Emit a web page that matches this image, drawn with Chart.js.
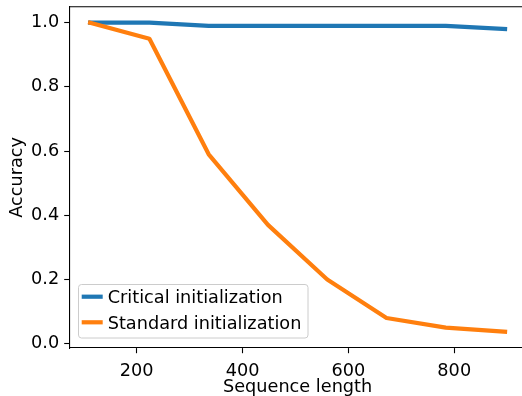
<!DOCTYPE html>
<html>
<head>
<meta charset="utf-8">
<script src="https://cdn.jsdelivr.net/npm/chart.js@4/dist/chart.umd.min.js"></script>
<style>
  html, body { margin: 0; padding: 0; background: #fff; overflow: hidden; }
  #wrap { width: 527px; height: 396px; }
</style>
</head>
<body>
<div id="wrap"><canvas id="c" width="527" height="396"></canvas></div>
<script>
const seqLength = [112, 224, 336, 448, 560, 672, 784, 896];
const critical = [1.0, 1.0, 0.99, 0.99, 0.99, 0.99, 0.99, 0.98];
const standard = [1.0, 0.95, 0.59, 0.37, 0.2, 0.08, 0.05, 0.037];
const xTicks = [200, 400, 600, 800];
const yTicks = [0.0, 0.2, 0.4, 0.6, 0.8, 1.0];
const seriesNames = ['Critical initialization', 'Standard initialization'];
const seriesColors = ['#1f77b4', '#ff7f0e'];

const FONT = 'DejaVu Sans';
const FS = 17.7;

const framePlugin = {
  id: 'frame',
  afterDraw(chart) {
    const ctx = chart.ctx, a = chart.chartArea;
    ctx.save();
    ctx.strokeStyle = '#000';
    ctx.lineWidth = 1.1;
    ctx.beginPath();
    ctx.moveTo(a.left, a.top);
    ctx.lineTo(a.right, a.top);
    ctx.lineTo(a.right, a.bottom);
    ctx.stroke();
    // legend
    const bx = 78.5, by = 284.5, bw = 229.5, bh = 53.5;
    ctx.beginPath();
    ctx.roundRect(bx, by, bw, bh, 3);
    ctx.fillStyle = 'rgba(255,255,255,0.8)';
    ctx.fill();
    ctx.strokeStyle = '#cccccc';
    ctx.lineWidth = 1;
    ctx.stroke();
    const rows = [296.7, 322.3];
    const bases = [303.3, 329.3];
    chart.data.datasets.forEach((ds) => {
      const li = ds.legendIndex;
      ctx.beginPath();
      ctx.strokeStyle = ds.borderColor;
      ctx.lineWidth = 4.2;
      ctx.lineCap = 'square';
      ctx.moveTo(83.8, rows[li]);
      ctx.lineTo(100.6, rows[li]);
      ctx.stroke();
      ctx.fillStyle = '#000';
      ctx.font = FS + 'px "' + FONT + '"';
      ctx.textBaseline = 'alphabetic';
      ctx.textAlign = 'left';
      ctx.fillText(ds.label, 107.7, bases[li]);
    });
    ctx.restore();
  }
};

const makeData = (ys) => seqLength.map((x, i) => ({ x: x, y: ys[i] }));
const zeroPad = (s) => { s.paddingTop = 0; s.paddingBottom = 0; s.paddingLeft = 0; s.paddingRight = 0; };

new Chart(document.getElementById('c'), {
  type: 'line',
  data: {
    datasets: [
      { label: seriesNames[0], data: makeData(critical), borderColor: seriesColors[0], backgroundColor: seriesColors[0],
        borderWidth: 4.2, pointRadius: 0, tension: 0, borderCapStyle: 'square', borderJoinStyle: 'round', order: 1, legendIndex: 0 },
      { label: seriesNames[1], data: makeData(standard), borderColor: seriesColors[1], backgroundColor: seriesColors[1],
        borderWidth: 4.2, pointRadius: 0, tension: 0, borderCapStyle: 'square', borderJoinStyle: 'round', order: 0, legendIndex: 1 }
    ]
  },
  options: {
    responsive: false,
    animation: false,
    devicePixelRatio: 1,
    layout: { padding: { top: 6.7, left: 0, right: 1.2, bottom: 0 } },
    plugins: { legend: { display: false }, tooltip: { enabled: false } },
    scales: {
      x: {
        type: 'linear',
        min: 72.8, max: 935.2,
        afterBuildTicks: (s) => { s.ticks = xTicks.map(v => ({ value: v })); },
        afterFit: (s) => { s.height = 48; zeroPad(s); },
        grid: { drawOnChartArea: false, drawTicks: true, tickLength: 5.2, tickWidth: 1.1, tickColor: '#000' },
        border: { display: true, color: '#000', width: 1.1 },
        ticks: { color: '#000', font: { family: FONT, size: FS }, padding: 8, maxRotation: 0,
                 callback: (v) => String(v) },
        title: { display: true, text: 'Sequence length', color: '#000', font: { family: FONT, size: FS }, padding: { top: 0, bottom: -2.5 } }
      },
      y: {
        type: 'linear',
        min: -0.0135, max: 1.0498,
        afterBuildTicks: (s) => { s.ticks = yTicks.map(v => ({ value: v })); },
        afterFit: (s) => { s.width = 69.4; zeroPad(s); },
        grid: { drawOnChartArea: false, drawTicks: true, tickLength: 5.2, tickWidth: 1.1, tickColor: '#000' },
        border: { display: true, color: '#000', width: 1.1 },
        ticks: { color: '#000', font: { family: FONT, size: FS }, padding: 5,
                 callback: (v) => Number(v).toFixed(1) },
        title: { display: true, text: 'Accuracy', color: '#000', font: { family: FONT, size: FS }, padding: { top: 7, bottom: 0 } }
      }
    }
  },
  plugins: [framePlugin]
});
</script>
</body>
</html>
